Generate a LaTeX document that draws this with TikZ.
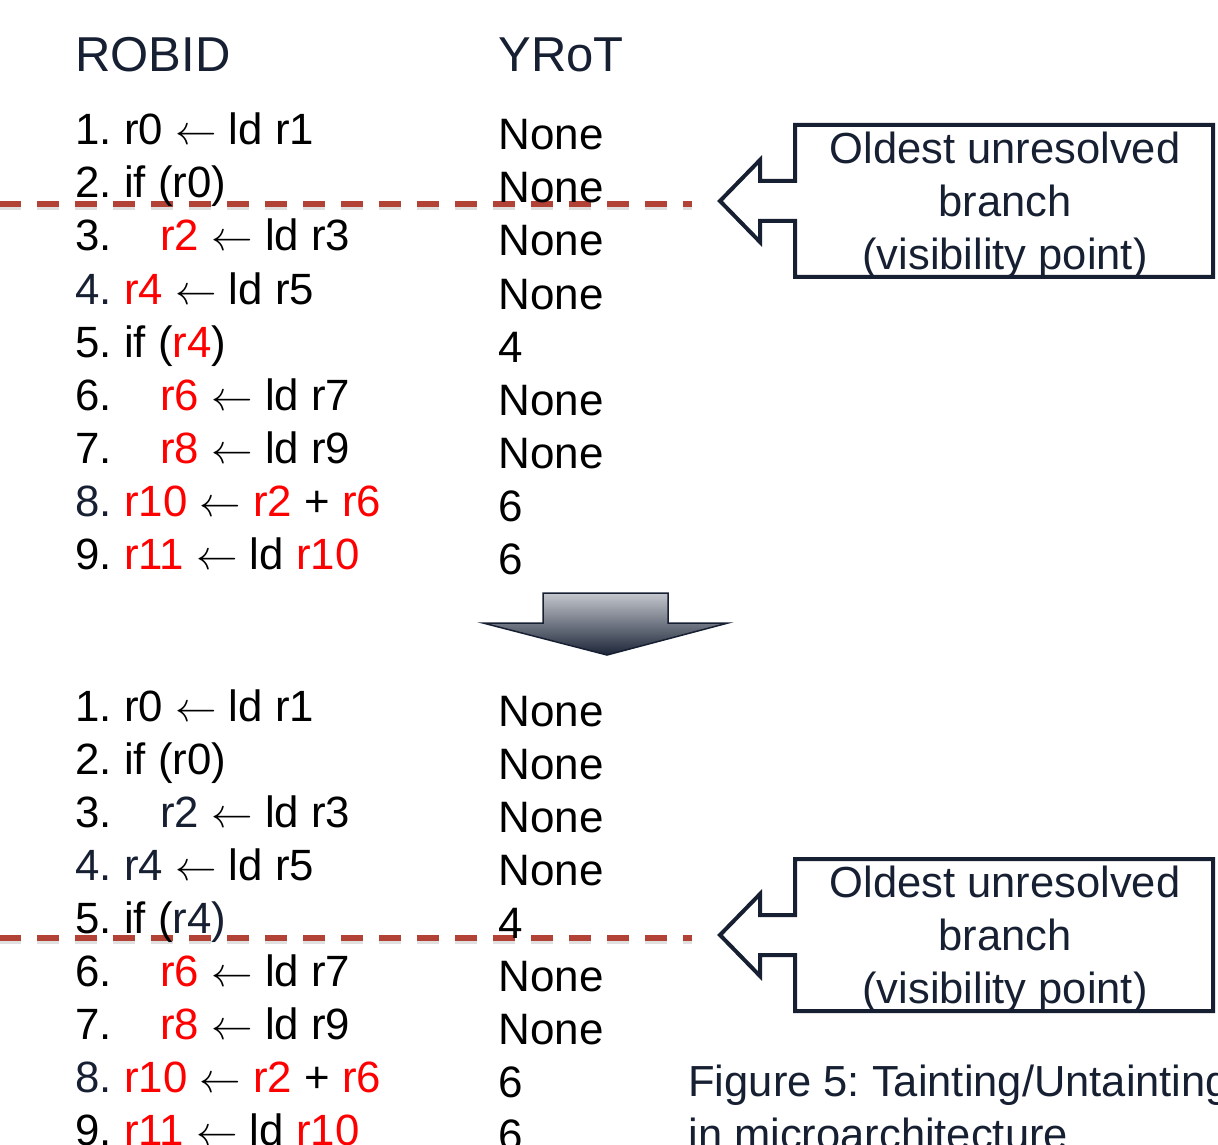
\documentclass[tikz,border=0pt]{standalone}
\usepackage{fontspec}
\setmainfont{Liberation Sans}
\usepackage{tikz}
\usetikzlibrary{arrows.meta,calc,shadows}
\frenchspacing
\newcommand*{\rowH}{53}
\newcommand*{\rd}[1]{\textcolor{taint}{#1}}
\newcommand*{\nv}[1]{\textcolor{robnavy}{#1}}
\newcommand*{\la}{$\leftarrow$}
\definecolor{taint}{RGB}{255,0,0}
\definecolor{robnavy}{RGB}{23,32,50}
\definecolor{vispt}{RGB}{178,66,54}
\definecolor{arrtop}{RGB}{196,199,205}
\definecolor{arrbot}{RGB}{28,37,56}

\tikzset{
	code/.style={anchor=base west,inner sep=0pt,font=\fontsize{21.9}{26}\selectfont},
	yrot/.style={anchor=base west,inner sep=0pt,font=\fontsize{22}{26}\selectfont},
	head/.style={anchor=base west,inner sep=0pt,text=robnavy,font=\fontsize{24.5}{29}\selectfont},
	vis/.style={line width=3pt,vispt,dash pattern=on 11pt off 8pt},
	visshadow/.style={line width=3pt,black,opacity=0.12,dash pattern=on 11pt off 8pt},
	callout/.style={line width=2pt,draw=robnavy,line join=miter},
	callouttext/.style={align=center,inner sep=0pt,text=robnavy,font=\fontsize{21.75}{26.5}\selectfont},
}

\begin{document}
\begin{tikzpicture}[x=0.5pt,y=-0.5pt]
\useasboundingbox (0,0) rectangle (1218,1144);

%\draw[step=50,gray,very thin,opacity=0.2] (0,0) grid (1218,1144);

% visibility points
\draw[visshadow] (-1,207) -- (692,207);
\draw[vis] (-1,204) -- (692,204);
\draw[visshadow] (-1,941) -- (692,941);
\draw[vis] (-1,938) -- (692,938);

\node[head] (robid) at (75,72) {ROBID};
\node[head] (yrot) at (498,72) {YRoT};

\begin{scope}[shift={(0,0)}]
	\node[code] (a1) at (75,145) {1. r0 \la{} ld r1};
	\node[code] (a2) at (75,198) {2. if (r0)};
	\node[code] (a3) at (75,251) {3.};
	\node[code] (a3r) at (160,251) {\rd{r2} \la{} ld r3};
	\node[code] (a4) at (75,304) {\nv{4.} \rd{r4} \la{} ld r5};
	\node[code] (a5) at (75,357) {5. if (\rd{r4})};
	\node[code] (a6) at (75,410) {6.};
	\node[code] (a6r) at (160,410) {\rd{r6} \la{} ld r7};
	\node[code] (a7) at (75,463) {7.};
	\node[code] (a7r) at (160,463) {\rd{r8} \la{} ld r9};
	\node[code] (a8) at (75,516) {\nv{8.} \rd{r10} \la{} \rd{r2} + \rd{r6}};
	\node[code] (a9) at (75,569) {9. \rd{r11} \la{} ld \rd{r10}};
	\foreach \v [count=\i] in {None,None,None,None,4,None,None,6,6}
		\node[yrot] (ya\i) at (498,{150+\rowH*(\i-1)}) {\v};
\end{scope}

\filldraw[top color=arrtop,bottom color=arrbot,draw=robnavy,line width=0.75pt] (543,593)--(668,593)--(668,623)--(728,623)--(607,655)--(483,623)--(543,623)--cycle;

\begin{scope}[shift={(0,576)}]
	\node[code] (b1) at (75,145) {1. r0 \la{} ld r1};
	\node[code] (b2) at (75,198) {2. if (r0)};
	\node[code] (b3) at (75,251) {3.};
	\node[code] (b3r) at (160,251) {\nv{r2} \la{} ld r3};
	\node[code] (b4) at (75,304) {\nv{4. r4} \la{} ld r5};
	\node[code] (b5) at (75,357) {5. if (\nv{r4)}};
	\node[code] (b6) at (75,410) {6.};
	\node[code] (b6r) at (160,410) {\rd{r6} \la{} ld r7};
	\node[code] (b7) at (75,463) {7.};
	\node[code] (b7r) at (160,463) {\rd{r8} \la{} ld r9};
	\node[code] (b8) at (75,516) {\nv{8.} \rd{r10} \la{} \rd{r2} + \rd{r6}};
	\node[code] (b9) at (75,569) {9. \rd{r11} \la{} ld \rd{r10}};
	\foreach \v [count=\i] in {None,None,None,None,4,None,None,6,6}
		\node[yrot] (yb\i) at (498,{150+\rowH*(\i-1)}) {\v};
\end{scope}

% oldest unresolved branch
\foreach \s/\n in {0/1,734/2}{
\begin{scope}[shift={(0,\s)}]
	\draw[callout] (795,181) -- (760,181) -- (760,160) -- (720,201) -- (760,242) -- (760,221) -- (795,221) -- (795,277) -- (1213,277) -- (1213,125) -- (795,125) -- cycle;
	\node[callouttext] (ob\n) at (1005,205.5) {Oldest unresolved\\branch\\(visibility point)};
\end{scope}
}

\node[anchor=north west,align=left,inner sep=0pt,text=robnavy,font=\fontsize{21.75}{26.5}\selectfont] (cap) at (688,1065) {Figure 5: Tainting/Untainting\\in microarchitecture};
\end{tikzpicture}
\end{document}
